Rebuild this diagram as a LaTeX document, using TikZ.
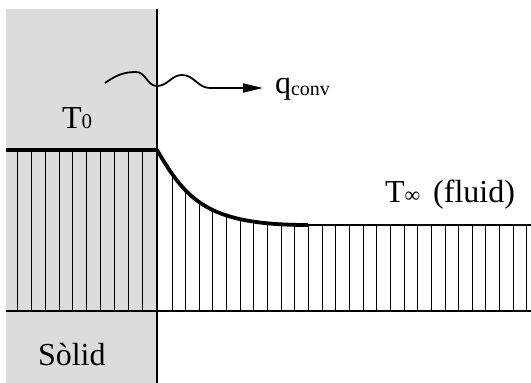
\documentclass[tikz,border=0pt]{standalone}
\usepackage{fontspec}
\setmainfont{Liberation Serif}
\usetikzlibrary{arrows.meta}
\definecolor{solidgray}{RGB}{220,220,220}
\tikzset{
  hatch/.style={line width=0.95pt, black},
  thickprofile/.style={line width=3.8pt, line cap=butt},
  wall/.style={line width=2pt},
  baseline line/.style={line width=1.8pt},
  lbl/.style={anchor=base west, inner sep=0pt, outer sep=0pt, font=\fontsize{32}{36}\selectfont},
  wave/.style={line width=1.8pt, -{Triangle[length=20pt,width=9pt]}}
}
\begin{document}
\begin{tikzpicture}[x=1pt,y=-1pt]
\useasboundingbox (0,0) rectangle (531,383);
% solid region
\fill[solidgray] (6,9) rectangle (157,383);
% hatching in the solid
\foreach \k in {0,...,9}{
  \draw[hatch] ({17.3+13.9*\k},150) -- ({17.3+13.9*\k},311);
}
% hatching in the fluid, clipped below the temperature profile
\begin{scope}
  \clip (157,150) .. controls (187,201) and (208,225) .. (308,225) -- (531,225) -- (531,311) -- (157,311) -- cycle;
  \foreach \k in {0,...,26}{
    \draw[hatch] ({172+13.65*\k},140) -- ({172+13.65*\k},311);
  }
\end{scope}
% base line and wall
\coordinate (b0) at (6,311);
\coordinate (b1) at (531,311);
\draw[baseline line] (b0) -- (b1);
\coordinate (w0) at (157,9);
\coordinate (w1) at (157,383);
\draw[wall] (w0) -- (w1);
% temperature profile
\coordinate (p0) at (6,150);
\coordinate (p1) at (157,150);
\coordinate (p2) at (308,225);
\coordinate (p3) at (531,225);
\draw[thickprofile] (p0) -- (p1);
\draw[thickprofile] (p1) .. controls (187,201) and (208,225) .. (p2);
\draw[line width=2.6pt] (p2) -- (p3);
% wavy heat flux arrow
\coordinate (q0) at (105,83);
\coordinate (q1) at (263,88);
\draw[wave] (q0) to[out=35,in=180] (136,72) to[out=0,in=180] (157,86)
  to[out=0,in=180] (182,75) to[out=0,in=180] (210,88) -- (q1);
% labels
\node[lbl] (qconv) at (275,93) {q\raisebox{-2pt}{\fontsize{20}{22}\selectfont conv}};
\node[lbl] (T0) at (62,128) {T{\fontsize{21}{22}\selectfont 0}};
\node[lbl] (Tinf) at (385,202) {T{\fontsize{22}{22}\selectfont ∞}\hspace{13pt}(fluid)};
\node[lbl] (solid) at (38,365) {Sòlid};
\end{tikzpicture}
\end{document}
